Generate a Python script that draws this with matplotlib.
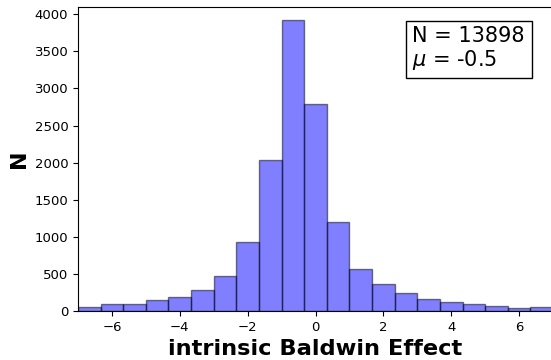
import numpy as np
import matplotlib
matplotlib.use("Agg")
import matplotlib.pyplot as plt

# bin edges: 21 bins of width 2/3 over [-7, 7]
bin_lo = -7.0
bin_hi = 7.0
n_bins = 21

# counts per bin, left to right
counts = [60, 91, 100, 146, 195, 286, 468, 934, 2030, 3925, 2790,
          1197, 569, 371, 244, 162, 122, 90, 73, 41, 54]

n_total = 13898
mu = -0.5

edges = np.linspace(bin_lo, bin_hi, n_bins + 1)
centers = 0.5 * (edges[:-1] + edges[1:])

fig = plt.figure(figsize=(5.51, 3.6), dpi=100)
ax = fig.add_axes([0.1416, 0.136, 0.862, 0.845])

ax.hist(centers, bins=edges, weights=counts, color="blue", alpha=0.5,
        edgecolor="black", linewidth=1)

ax.set_xlim(bin_lo, bin_hi)
ax.set_ylim(0, 4100)
ax.set_yticks(np.arange(0, 4001, 500))
ax.tick_params(labelsize=9.5)
ax.spines["right"].set_visible(False)

ax.set_xlabel("intrinsic Baldwin Effect", fontsize=16.2, fontweight="bold", labelpad=4)
ax.set_ylabel("N", fontsize=16, fontweight="bold")

ax.text(0.704, 0.938, "N = %d\n$\\mu$ = %.1f" % (n_total, mu),
        transform=ax.transAxes, fontsize=15, va="top", ha="left",
        linespacing=1.1,
        bbox=dict(boxstyle="square,pad=0.33", facecolor="white", edgecolor="black"))

fig.savefig("out.png", dpi=100)
